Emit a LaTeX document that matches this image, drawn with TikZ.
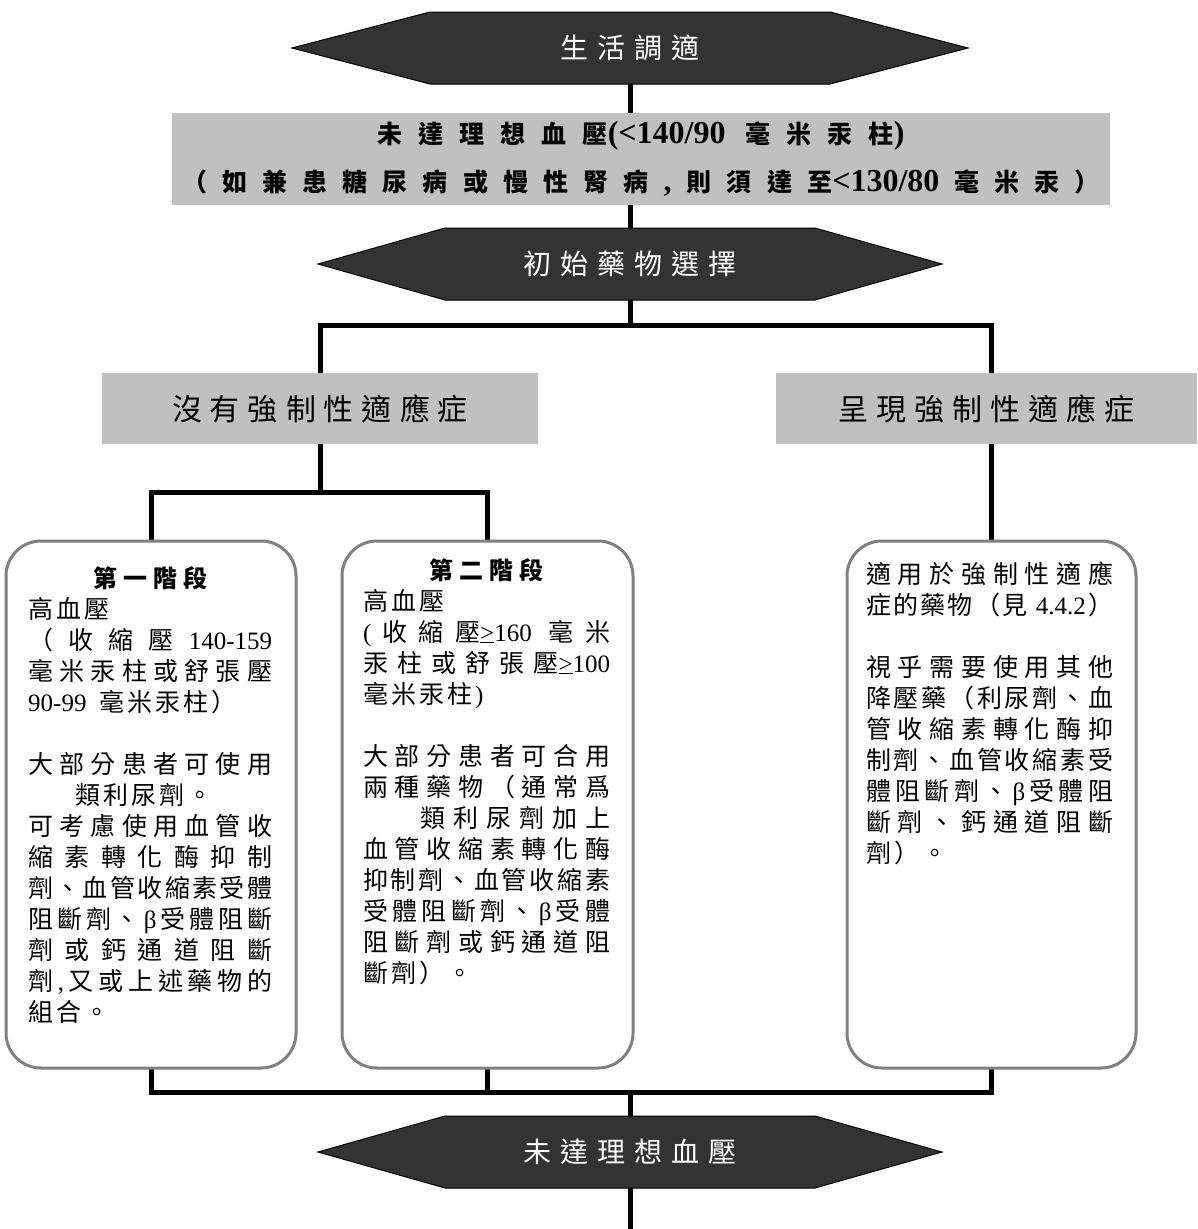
\documentclass[tikz,border=0pt]{standalone}
\usepackage{fontspec}
\setmainfont{Liberation Serif}
\newfontfamily\cjk{Noto Sans CJK TC}
\newfontfamily\tm{Liberation Serif}
\newcommand\tmB{\tm\bfseries\fontsize{32}{32}\selectfont}
\usetikzlibrary{calc}
\definecolor{hexfill}{HTML}{333333}
\definecolor{graybg}{HTML}{C0C0C0}
\definecolor{boxline}{HTML}{808080}
\pgfdeclarelayer{back}
\pgfdeclarelayer{bg}
\pgfsetlayers{back,bg,main}
\makeatletter
\def\sp@glue{}
\def\sp@rd#1{\ifx\relax#1\else\sp@glue#1\expandafter\sp@rd\fi}
\newcommand\jl[2]{\hbox to #1{\def\sp@glue{\hskip0pt plus1fil\relax}\hskip0pt plus-1fil\relax\sp@rd#2\relax}}
\newcommand\nl[2][3pt]{\hbox{\def\sp@glue{\kern#1\relax}\kern-#1\relax\sp@rd#2\relax}}
\makeatother
\tikzset{
  conn/.style={line width=5pt, line join=miter},
  hexnode/.style={inner sep=0pt, outer sep=0pt, minimum height=72pt, text=white, font=\cjk\fontsize{28}{28}\selectfont},
  graybox/.style={fill=graybg, inner sep=0pt, outer sep=0pt},
  roundbox/.style={draw=boxline, line width=3pt, rounded corners=35pt, fill=white, inner sep=0pt, outer sep=0pt},
  boxtext/.style={inner sep=0pt, anchor=base west, font=\cjk\fontsize{25}{31}\selectfont},
  hexshape/.style={fill=hexfill, draw=black, line width=1pt}
}
\begin{document}
\begin{tikzpicture}[x=1pt,y=-1pt]
\useasboundingbox (0,0) rectangle (1197,1229);
\begin{pgfonlayer}{back}
\fill[white] (0,0) rectangle (1197,1229);
\end{pgfonlayer}

% hexagon nodes (flat part)
\node[hexnode, minimum width=400pt] (h1) at (630,48) {\nl[9pt]{生活調適}};
\node[hexnode, minimum width=370pt] (h2) at (630,264) {\nl[9pt]{初始藥物選擇}};
\node[hexnode, minimum width=370pt] (h4) at (630,1152) {\nl[9pt]{未達理想血壓}};

% top gray box
\node[graybox, minimum width=938pt, minimum height=92pt, font=\cjk\bfseries\fontsize{25}{48}\selectfont] (g0) at (641,159)
 {\vbox{\baselineskip=48pt
  \hbox to 918pt{\hfil\jl{527pt}{未達理想血{{壓\tmB(<140/90\hspace{4pt}}}毫米汞{{柱\tmB)}}}\hfil}
  \hbox{\jl{918pt}{（如兼患糖尿病或慢性腎病{{\tmB,}}則須達{{至\tmB<130/80}}毫米汞）}}}};

% second-level gray boxes
\node[graybox, minimum width=436pt, minimum height=71pt, font=\cjk\fontsize{30}{30}\selectfont] (n1) at (320,408.5) {\nl[8pt]{沒有強制性適應症}};
\node[graybox, minimum width=421pt, minimum height=71pt, font=\cjk\fontsize{30}{30}\selectfont] (n2) at (986.5,408.5) {\nl[8pt]{呈現強制性適應症}};

% rounded boxes
\node[roundbox, minimum width=290pt, minimum height=527pt] (b1) at (151,804.5) {};
\node[roundbox, minimum width=291pt, minimum height=527pt] (b2) at (487.5,804.5) {};
\node[roundbox, minimum width=289pt, minimum height=527pt] (b3) at (991.5,804.5) {};

\node[boxtext] (b1t) at (28,587) {\vtop{\hsize=244pt
  \hbox to 244pt{\hfil\bfseries\fontsize{24}{31}\selectfont\nl[6pt]{第一階段}\hfil}
  \nl{高血壓}
  \jl{244pt}{（收縮壓{{\tm 140-159}}}
  \jl{244pt}{毫米汞柱或舒張壓}
  \nl{{{\tm 90-99\hspace{10pt}}}毫米汞柱）}
  \hbox{}
  \jl{244pt}{大部分患者可使用}
  \hbox{\hspace{47pt}\nl{類利尿劑。}}
  \jl{244pt}{可考慮使用血管收}
  \jl{244pt}{縮素轉化酶抑制}
  \jl{244pt}{劑、血管收縮素受體}
  \jl{244pt}{阻斷劑、{{\tm β}}受體阻斷}
  \jl{244pt}{劑或鈣通道阻斷}
  \jl{244pt}{劑{{\tm ,}}又或上述藥物的}
  \nl{組合。}}};

\node[boxtext] (b2t) at (363,579) {\vtop{\hsize=247pt
  \hbox to 247pt{\hfil\bfseries\fontsize{24}{31}\selectfont\nl[6pt]{第二階段}\hfil}
  \nl{高血壓}
  \jl{247pt}{{{\tm(}}收縮{{壓\tm\underline{>}160\hspace{6pt}}}毫米}
  \jl{247pt}{汞柱或舒張{{壓\tm\underline{>}100}}}
  \nl{毫米汞柱{{\tm)}}}
  \hbox{}
  \jl{247pt}{大部分患者可合用}
  \jl{247pt}{兩種藥物（通常爲}
  \hbox{\hspace{57pt}\jl{190pt}{類利尿劑加上}}
  \jl{247pt}{血管收縮素轉化酶}
  \jl{247pt}{抑制劑、血管收縮素}
  \jl{247pt}{受體阻斷劑、{{\tm β}}受體}
  \jl{247pt}{阻斷劑或鈣通道阻}
  \nl{斷劑）。}}};

\node[boxtext] (b3t) at (866,583) {\vtop{\hsize=247pt
  \jl{247pt}{適用於強制性適應}
  \jl{247pt}{症的藥物（見{{\tm\ 4.4.2}}）}
  \hbox{}
  \jl{247pt}{視乎需要使用其他}
  \jl{247pt}{降壓藥（利尿劑、血}
  \jl{247pt}{管收縮素轉化酶抑}
  \jl{247pt}{制劑、血管收縮素受}
  \jl{247pt}{體阻斷劑、{{\tm β}}受體阻}
  \jl{247pt}{斷劑、鈣通道阻斷}
  \nl{劑）。}}};

\coordinate (j1) at (630,325);
\coordinate (j2) at (320,492);
\coordinate (j3) at (630,1092);
\coordinate (jend) at (630,1229);

\begin{pgfonlayer}{bg}
  \filldraw[hexshape] (h1.north west) -- (h1.north east) -- ([xshift=138pt]h1.east) -- (h1.south east) -- (h1.south west) -- ([xshift=-138pt]h1.west) -- cycle;
  \filldraw[hexshape] (h2.north west) -- (h2.north east) -- ([xshift=127pt]h2.east) -- (h2.south east) -- (h2.south west) -- ([xshift=-127pt]h2.west) -- cycle;
  \filldraw[hexshape] (h4.north west) -- (h4.north east) -- ([xshift=127pt]h4.east) -- (h4.south east) -- (h4.south west) -- ([xshift=-127pt]h4.west) -- cycle;

  \draw[conn] (h1.south) -- (h1.south |- g0.north);
  \draw[conn] (h2.north |- g0.south) -- (h2.north);
  \draw[conn] (h2.south) -- (j1);
  \draw[conn] (n1.north) |- (j1) -| (b3.north |- n2.north);
  \draw[conn] (n1.south) -- (j2);
  \draw[conn] (b1.north) |- (j2) -| (b2.north);
  \draw[conn] (b3.north |- n2.south) -- (b3.north);
  \draw[conn] (b1.south) |- (j3) -| (b3.south);
  \draw[conn] (b2.south) -- (b2.south |- j3);
  \draw[conn] (j3) -- (h4.north);
  \draw[conn] (h4.south) -- (jend);
\end{pgfonlayer}
\end{tikzpicture}
\end{document}
